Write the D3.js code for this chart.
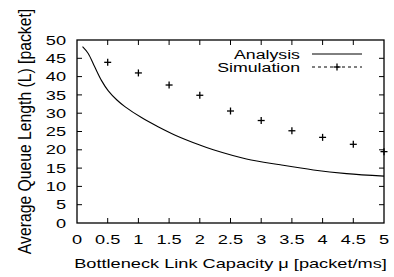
<!DOCTYPE html>
<html><head><meta charset="utf-8">
<script src="https://cdn.jsdelivr.net/npm/d3@7"></script>
<style>body{margin:0;background:#fff}svg{display:block}text{font-family:"Liberation Sans",Arial,sans-serif;fill:#000}</style>
</head><body>
<svg id="c" width="394" height="277"></svg>
<script>
const xTicks = [0,0.5,1,1.5,2,2.5,3,3.5,4,4.5,5];
const yTicks = [0,5,10,15,20,25,30,35,40,45,50];
const analysisMu = [0.09,0.18,0.29,0.40,0.51,0.65,0.78,1.05,1.32,1.60,2.0,2.22,2.76,3.31,3.85,4.39,5.0];
const analysisL  = [48.2,46.4,42.6,38.9,36.1,33.6,31.8,28.8,26.3,24.0,21.3,20.0,17.5,15.9,14.5,13.5,12.8];
const simMu = [0.5,1,1.5,2,2.5,3,3.5,4,4.5,5];
const simL  = [43.9,41.0,37.7,34.9,30.6,28.0,25.2,23.4,21.5,19.5];
const seriesNames = ["Analysis","Simulation"];
const xTitle = "Bottleneck Link Capacity \u03bc [packet/ms]";
const yTitle = "Average Queue Length (L) [packet]";

const W=394,H=277,m={l:77,r:10,t:40,b:54};
const svg=d3.select("#c");
const x=d3.scaleLinear().domain([0,5]).range([m.l,W-m.r]);
const y=d3.scaleLinear().domain([0,50]).range([H-m.b,m.t]);
const fs=13, SX=1.4;

function txt(px,py,s,anchor,opts={}){
  const t=svg.append("text")
    .attr("transform",`translate(${px},${py})${opts.rot?" rotate(-90)":""} scale(${opts.sx||SX},${opts.sy||1})`)
    .attr("text-anchor",anchor).attr("font-size",opts.fs||fs).text(s);
  if(opts.dy) t.attr("dy",opts.dy);
  return t;
}

const tl=5;
const g=svg.append("g");
xTicks.forEach(t=>{
  if(t>0 && t<5){
    g.append("line").attr("x1",x(t)).attr("x2",x(t)).attr("y1",y(0)).attr("y2",y(0)-tl).attr("stroke","#000");
    g.append("line").attr("x1",x(t)).attr("x2",x(t)).attr("y1",y(50)).attr("y2",y(50)+tl).attr("stroke","#000");
  }
  txt(x(t),y(0)+20.5,t,"middle");
});
yTicks.forEach(t=>{
  if(t>0 && t<50){
    g.append("line").attr("x1",x(0)).attr("x2",x(0)+tl).attr("y1",y(t)).attr("y2",y(t)).attr("stroke","#000");
    g.append("line").attr("x1",x(5)).attr("x2",x(5)-tl).attr("y1",y(t)).attr("y2",y(t)).attr("stroke","#000");
  }
  txt(m.l-11,y(t),t,"end",{dy:"0.36em"});
});
svg.append("rect").attr("x",x(0)).attr("y",y(50)).attr("width",x(5)-x(0)).attr("height",y(0)-y(50))
  .attr("fill","none").attr("stroke","#000").attr("stroke-width",1.3);

const line=d3.line().x(d=>x(d[0])).y(d=>y(d[1])).curve(d3.curveCatmullRom.alpha(0.5));
svg.append("path").datum(analysisMu.map((v,i)=>[v,analysisL[i]])).attr("d",line)
  .attr("fill","none").attr("stroke","#000").attr("stroke-width",1.1);

const plus=(sel,cx,cy,a)=>{
  sel.append("line").attr("x1",cx-a).attr("x2",cx+a).attr("y1",cy).attr("y2",cy).attr("stroke","#000").attr("stroke-width",1.3);
  sel.append("line").attr("x1",cx).attr("x2",cx).attr("y1",cy-a).attr("y2",cy+a).attr("stroke","#000").attr("stroke-width",1.3);
};
const sg=svg.append("g");
simMu.forEach((v,i)=>plus(sg,x(v),y(simL[i]),3.5));

const lx1=312,lx2=362;
txt(300,58.5,seriesNames[0],"end",{fs:12.5,sx:1.42});
svg.append("line").attr("x1",lx1).attr("x2",lx2).attr("y1",54).attr("y2",54).attr("stroke","#000").attr("stroke-width",1);
txt(300,71.5,seriesNames[1],"end",{fs:12.5,sx:1.42});
svg.append("line").attr("x1",lx1).attr("x2",lx2).attr("y1",67).attr("y2",67).attr("stroke","#000").attr("stroke-width",1).attr("stroke-dasharray","3,3");
plus(svg,(lx1+lx2)/2,67,3.5);

txt((x(0)+x(5))/2,268,xTitle,"middle");
txt(31,(y(0)+y(50))/2,yTitle,"middle",{rot:true,sx:1.21,sy:1.4});
</script>
</body></html>
